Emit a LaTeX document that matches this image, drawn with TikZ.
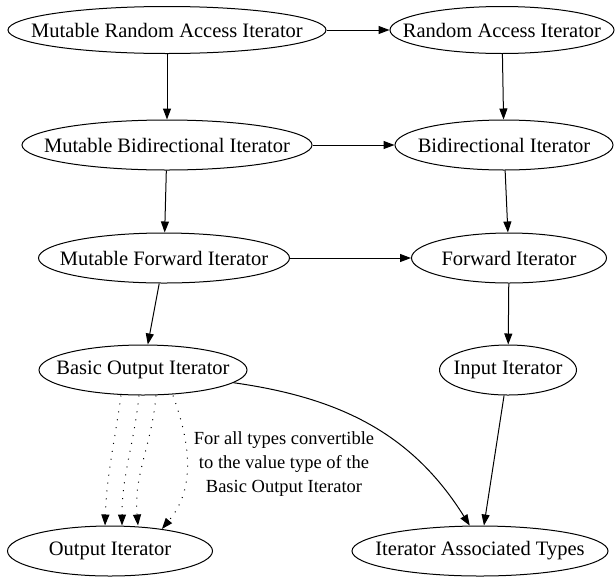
\documentclass[tikz,border=0pt]{standalone}
\usepackage{fontspec}
\setmainfont{Liberation Serif}
\usetikzlibrary{shapes,arrows.meta}

\begin{document}
\begin{tikzpicture}[x=1pt,y=-1pt]
        \tikzstyle{concept}=[ellipse,draw,line width=1pt,inner xsep=-150pt,inner ysep=0pt,minimum height=50pt,font=\fontsize{20.5}{24}\selectfont]
        \tikzstyle{refines}=[line width=1pt,-{Triangle[length=11pt,width=8pt]}]
        \tikzstyle{converts}=[refines,dash pattern=on 1pt off 7pt]
        \useasboundingbox (0,0) rectangle (615,579);
        % iterator concepts
        \node[concept,minimum width=318pt,minimum height=47pt] (mra) at (167,30) {Mutable Random Access Iterator};
        \node[concept,minimum width=224pt,minimum height=47pt] (ra) at (502,30) {Random Access Iterator};
        \node[concept,minimum width=290pt] (mbi) at (167,145) {Mutable Bidirectional Iterator};
        \node[concept,minimum width=218pt] (bi) at (504,145) {Bidirectional Iterator};
        \node[concept,minimum width=251pt] (mfi) at (164,258) {Mutable Forward Iterator};
        \node[concept,minimum width=195pt] (fi) at (509,258) {Forward Iterator};
        \node[concept,minimum width=208pt] (boi) at (143,370) {Basic Output Iterator};
        \node[concept,minimum width=137pt] (ii) at (508,370) {Input Iterator};
        \node[concept,minimum width=205pt] (oi) at (110,551) {Output Iterator};
        \node[concept,minimum width=256pt] (iat) at (480,551) {Iterator Associated Types};
        \node[font=\fontsize{18.5}{24}\selectfont,align=center] (note) at (284,464)
            {For all types convertible\\to the value type of the\\Basic Output Iterator};
        % refinements
        \draw[refines] (mra) -- (ra);
        \draw[refines] (mra) -- (mbi);
        \draw[refines] (ra) -- (bi);
        \draw[refines] (mbi) -- (bi);
        \draw[refines] (mbi) -- (mfi);
        \draw[refines] (bi) -- (fi);
        \draw[refines] (mfi) -- (fi);
        \draw[refines] (mfi) -- (boi);
        \draw[refines] (fi) -- (ii);
        \draw[refines] (ii) -- (iat);
        \draw[refines] (boi) to[out=-8,in=122] (iat.112);
        % output iterator, one arrow per value type
        \draw[converts] ([xshift=-22pt]boi.south) to[out=-98,in=88] ([xshift=-5pt]oi.north);
        \draw[converts] ([xshift=-4pt]boi.south) to[out=-96,in=90] ([xshift=12pt]oi.north);
        \draw[converts] ([xshift=13pt]boi.south) to[out=-95,in=95] ([xshift=28pt]oi.north);
        \draw[converts] ([xshift=30pt]boi.south) to[out=-70,in=50] (oi.23);
    \end{tikzpicture}
\end{document}
